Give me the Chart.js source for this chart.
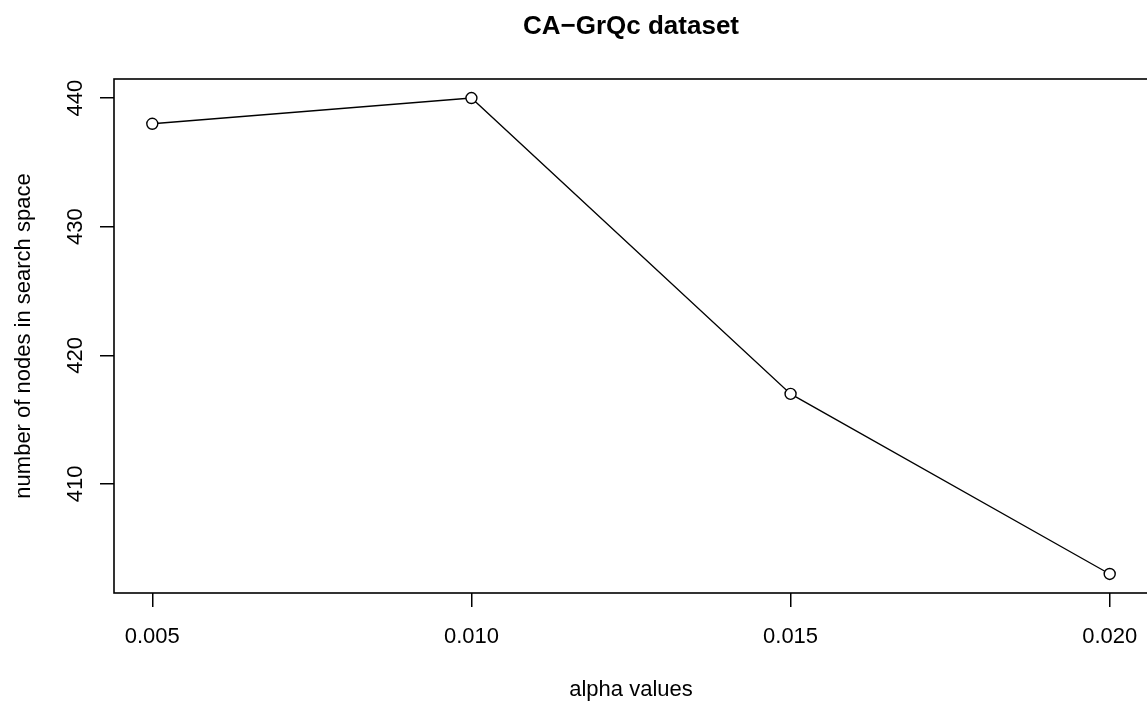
<!DOCTYPE html>
<html>
<head>
<meta charset="utf-8">
<script src="https://cdn.jsdelivr.net/npm/chart.js@4/dist/chart.umd.min.js"></script>
<style>
  html, body { margin: 0; padding: 0; background: #fff; overflow: hidden; }
  #wrap { width: 1147px; height: 704px; overflow: hidden; }
</style>
</head>
<body>
<div id="wrap"><canvas id="myChart" width="1200" height="704"></canvas></div>
<script>
const alphaValues = [0.005, 0.010, 0.015, 0.020];
const nodeCounts = [438, 440, 417, 403];
const xTicks = [0.005, 0.010, 0.015, 0.020];
const xTickLabels = ['0.005', '0.010', '0.015', '0.020'];
const yTicks = [410, 420, 430, 440];
const chartTitle = 'CA\u2212GrQc dataset';
const xTitle = 'alpha values';
const yTitle = 'number of nodes in search space';

const FONT = '"Liberation Sans", Arial, Helvetica, sans-serif';

// R style frame, tick labels and titles
const rStyle = {
  id: 'rStyle',
  afterDraw(chart) {
    const ctx = chart.ctx;
    const a = chart.chartArea;
    const xs = chart.scales.x;
    const ys = chart.scales.y;
    ctx.save();
    ctx.strokeStyle = '#000';
    ctx.lineWidth = 1.6;
    ctx.strokeRect(a.left, a.top, a.right - a.left, a.bottom - a.top);

    ctx.fillStyle = '#000';
    ctx.font = '22px ' + FONT;
    ctx.textAlign = 'center';
    ctx.textBaseline = 'alphabetic';
    xTicks.forEach((v, i) => {
      ctx.fillText(xTickLabels[i], xs.getPixelForValue(v), 643);
    });
    yTicks.forEach(v => {
      ctx.save();
      ctx.translate(82, ys.getPixelForValue(v));
      ctx.rotate(-Math.PI / 2);
      ctx.fillText(String(v), 0, 0);
      ctx.restore();
    });

    const cx = (a.left + a.right) / 2;
    const cy = (a.top + a.bottom) / 2;
    ctx.fillText(xTitle, cx, 696);
    ctx.save();
    ctx.translate(30, cy);
    ctx.rotate(-Math.PI / 2);
    ctx.fillText(yTitle, 0, 0);
    ctx.restore();

    ctx.font = 'bold 26px ' + FONT;
    ctx.fillText(chartTitle, cx, 34);
    ctx.restore();
  }
};

new Chart(document.getElementById('myChart'), {
  type: 'line',
  data: {
    datasets: [{
      label: 'nodes',
      data: alphaValues.map((x, i) => ({ x: x, y: nodeCounts[i] })),
      borderColor: '#000',
      borderWidth: 1.3,
      pointRadius: 5.5,
      pointBorderWidth: 1.4,
      pointBorderColor: '#000',
      pointBackgroundColor: '#fff',
      tension: 0,
      fill: false
    }]
  },
  options: {
    responsive: false,
    animation: false,
    devicePixelRatio: 1,
    layout: { padding: { top: 79, left: 0, right: 52, bottom: 0 } },
    plugins: {
      legend: { display: false },
      title: { display: false },
      tooltip: { enabled: false }
    },
    scales: {
      x: {
        type: 'linear',
        min: 0.0044,
        max: 0.0206,
        afterBuildTicks: s => { s.ticks = xTicks.map(v => ({ value: v })); },
        afterFit: s => { s.height = 111; },
        ticks: { display: false },
        grid: { drawOnChartArea: false, drawTicks: true, tickLength: 14, color: '#000', lineWidth: 1.5 },
        border: { display: false }
      },
      y: {
        type: 'linear',
        min: 401.52,
        max: 441.48,
        afterBuildTicks: s => { s.ticks = yTicks.map(v => ({ value: v })); },
        afterFit: s => { s.width = 114; },
        ticks: { display: false },
        grid: { drawOnChartArea: false, drawTicks: true, tickLength: 14, color: '#000', lineWidth: 1.5 },
        border: { display: false }
      }
    }
  },
  plugins: [rStyle]
});
</script>
</body>
</html>
